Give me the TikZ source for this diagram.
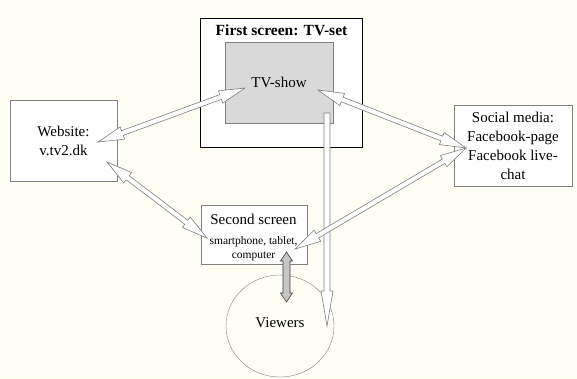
\documentclass[tikz,border=0pt]{standalone}
\usepackage{fontspec}
\setmainfont{Liberation Serif}
\usetikzlibrary{calc}
\usetikzlibrary{shapes.geometric}
\definecolor{paper}{RGB}{254,254,244}
\definecolor{edge}{RGB}{128,128,128}
\definecolor{screen}{RGB}{217,217,217}
\newcommand{\devfont}{\fontsize{11.5}{12.5}\selectfont}
\tikzset{
  box/.style={draw=edge, fill=white, inner sep=0pt, align=center},
  dblarrow/.style n args={3}{draw=edge, fill=white, line width=0.6pt,
    to path={
      -- ($(\tikztostart)!#1!(\tikztotarget)!#2!90:(\tikztotarget)$)
      -- ($(\tikztostart)!#1!(\tikztotarget)!#3!90:(\tikztotarget)$)
      -- ($(\tikztotarget)!#1!(\tikztostart)!#3!-90:(\tikztostart)$)
      -- ($(\tikztotarget)!#1!(\tikztostart)!#2!-90:(\tikztostart)$)
      -- (\tikztotarget)
      -- ($(\tikztotarget)!#1!(\tikztostart)!#2!90:(\tikztostart)$)
      -- ($(\tikztotarget)!#1!(\tikztostart)!#3!90:(\tikztostart)$)
      -- ($(\tikztostart)!#1!(\tikztotarget)!#3!-90:(\tikztotarget)$)
      -- ($(\tikztostart)!#1!(\tikztotarget)!#2!-90:(\tikztotarget)$)
      -- cycle}},
  sglarrow/.style n args={3}{draw=edge, fill=white, line width=0.6pt,
    to path={
      -- ($(\tikztostart)!#3!90:(\tikztotarget)$)
      -- ($(\tikztotarget)!#1!(\tikztostart)!#3!-90:(\tikztostart)$)
      -- ($(\tikztotarget)!#1!(\tikztostart)!#2!-90:(\tikztostart)$)
      -- (\tikztotarget)
      -- ($(\tikztotarget)!#1!(\tikztostart)!#2!90:(\tikztostart)$)
      -- ($(\tikztotarget)!#1!(\tikztostart)!#3!90:(\tikztostart)$)
      -- ($(\tikztostart)!#3!-90:(\tikztotarget)$)
      -- cycle}},
}
\begin{document}
\begin{tikzpicture}[x=1pt,y=-1pt,font=\fontsize{15}{19}\selectfont]
\fill[paper] (0,0) rectangle (577,378);
\useasboundingbox (0,0) rectangle (577,378);

% boxes
\node[box, minimum width=107, minimum height=81] (website) at (63.5,140.5) {Website:\\v.tv2.dk};
\node[box, draw=black, minimum width=162, minimum height=129] (tvset) at (281,82.5) {};
\node[font=\fontsize{15.5}{18}\selectfont\bfseries] (tvtitle) at (281.5,30) {First screen: TV-set};
\node[box, fill=screen, minimum width=108, minimum height=81] (tvshow) at (279,82.5) {TV-show};
\node[box, minimum width=118, minimum height=81] (social) at (513,145.5)
  {Social media:\\Facebook-page\\Facebook live-\\chat};
\node[box, minimum width=106, minimum height=59] (second) at (254,234.5) {};
\node[box, fill=paper, ellipse, minimum width=108, minimum height=102] (viewers) at (280,326) {};
\node (viewerstext) at (280,323) {Viewers};

% arrow ends
\coordinate (webR) at (98,142);
\coordinate (webB) at (107,162);
\coordinate (showL) at (245,88);
\coordinate (showR) at (318,90);
\coordinate (socL) at (466,148);
\coordinate (secL) at (207,238);
\coordinate (secR) at (295,249);
\coordinate (secB) at (286.5,252);
\coordinate (viewT) at (286.5,302);
\coordinate (tvA) at (327,113);
\coordinate (tvB) at (327,326);

% arrows
\draw[dblarrow={26pt}{6.5pt}{2.5pt}] (webR) to (showL);
\draw[dblarrow={26pt}{6.5pt}{2.5pt}] (showR) to (socL);
\draw[dblarrow={26pt}{6.5pt}{2.5pt}] (webB) to (secL);
\draw[sglarrow={35pt}{6pt}{3pt}] (tvA) to (tvB);
\draw[dblarrow={26pt}{6.5pt}{2.5pt}] (secR) to (socL);
\draw[dblarrow={9pt}{6pt}{3.5pt}, fill=gray!45, draw=black!75] (secB) to (viewT);

\node[align=center] (secondtext) at (253.5,238)
  {Second screen\\[1pt]\devfont smartphone, tablet,\\[-5pt]\devfont computer};
\end{tikzpicture}
\end{document}
